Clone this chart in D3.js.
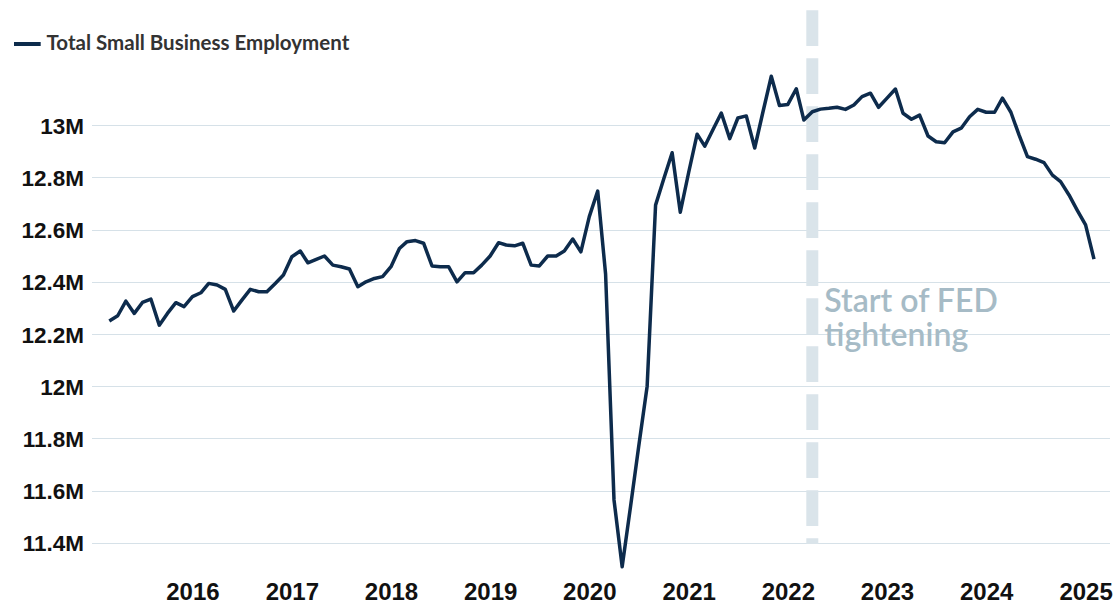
<!DOCTYPE html>
<html lang="en">
<head>
  <meta charset="UTF-8">
  <title>Total Small Business Employment</title>
  <style>
    body { margin: 0; background: #fff; }
    svg { display: block; }
    .grid line { stroke: #d6e1e8; stroke-width: 1; }
    .axis text { font-family: "Liberation Sans", Arial, sans-serif; font-weight: bold; fill: #111; }
    .legend text { font-family: Lato, "Open Sans", sans-serif; font-weight: 700; fill: #333; }
    .note { font-family: Lato, "Open Sans", sans-serif; font-weight: 600; fill: #a6bbc6; }
  </style>
  <script src="https://d3js.org/d3.v7.min.js"></script>
</head>
<body>
  <div id="chart"></div>

  <script>
    // Data: monthly small business employment, in millions (Mar 2015 - Feb 2025)
    var firstMonth = "2015-03";
    var employment = [
      12.250, 12.270, 12.326, 12.279, 12.321, 12.334, 12.234, 12.279, 12.320, 12.305,
      12.343, 12.358, 12.394, 12.388, 12.371, 12.288, 12.330, 12.371, 12.362, 12.362, 12.394, 12.426,
      12.496, 12.518, 12.473, 12.486, 12.499, 12.464, 12.458, 12.449, 12.381, 12.400, 12.413, 12.420,
      12.458, 12.528, 12.554, 12.558, 12.548, 12.461, 12.458, 12.458, 12.400, 12.435, 12.435, 12.464,
      12.499, 12.550, 12.541, 12.538, 12.548, 12.464, 12.461, 12.499, 12.499, 12.518, 12.564, 12.515,
      12.650, 12.748, 12.430, 11.564, 11.308, 11.540, 11.770, 12.000, 12.694, 12.794, 12.895, 12.667,
      12.820, 12.966, 12.920, 12.985, 13.047, 12.949, 13.028, 13.036, 12.913, 13.050, 13.188, 13.076,
      13.080, 13.140, 13.020, 13.052, 13.062, 13.065, 13.069, 13.061, 13.078, 13.110, 13.123, 13.069,
      13.104, 13.139, 13.046, 13.023, 13.039, 12.959, 12.937, 12.933, 12.975, 12.989, 13.033, 13.061,
      13.050, 13.050, 13.104, 13.050, 12.963, 12.880, 12.870, 12.857, 12.809, 12.784, 12.733, 12.675,
      12.618, 12.487
    ];
    var yTicks = [11.4, 11.6, 11.8, 12, 12.2, 12.4, 12.6, 12.8, 13];
    var xTickYears = [2016, 2017, 2018, 2019, 2020, 2021, 2022, 2023, 2024, 2025];
    var seriesName = "Total Small Business Employment";
    var noteLines = ["Start of FED", "tightening"];
    var noteMonth = "2022-04";

    var width = 1117, height = 604;
    var parseMonth = d3.timeParse("%Y-%m");
    var start = parseMonth(firstMonth);

    var data = employment.map(function(v, i) {
      return { date: d3.timeMonth.offset(start, i), value: v };
    });

    // Escalas
    var x = d3.scaleTime()
      .domain([data[0].date, data[data.length - 1].date])
      .range([109.3, 1094]);

    var y = d3.scaleLinear()
      .domain([11.4, 13])
      .range([542.7, 125.3]);

    var svg = d3.select("#chart").append("svg")
      .attr("width", width)
      .attr("height", height);

    // Grid lines
    svg.append("g")
      .attr("class", "grid")
      .selectAll("line")
      .data(yTicks)
      .enter().append("line")
      .attr("x1", 92)
      .attr("x2", 1110)
      .attr("y1", function(d) { return Math.round(y(d)) + 0.5; })
      .attr("y2", function(d) { return Math.round(y(d)) + 0.5; });

    // Y axis labels
    var yAxis = d3.axisLeft(y)
      .tickValues(yTicks)
      .tickSize(0)
      .tickPadding(0)
      .tickFormat(function(d) { return d3.format(".3~")(d) + "M"; });

    svg.append("g")
      .attr("class", "axis y")
      .attr("transform", "translate(84,0)")
      .call(yAxis)
      .call(function(g) { g.select(".domain").remove(); })
      .selectAll("text")
      .attr("font-size", 22.5)
      .attr("dy", "0.36em");

    // X axis labels
    var xAxis = d3.axisBottom(x)
      .tickValues(xTickYears.map(function(yr) { return new Date(yr, 0, 1); }))
      .tickSize(0)
      .tickPadding(0)
      .tickFormat(d3.timeFormat("%Y"));

    svg.append("g")
      .attr("class", "axis x")
      .attr("transform", "translate(0,600)")
      .call(xAxis)
      .call(function(g) { g.select(".domain").remove(); })
      .selectAll("text")
      .attr("font-size", 24)
      .attr("dy", 0);

    // Fed tightening marker
    var xNote = x(parseMonth(noteMonth));
    svg.append("line")
      .attr("x1", xNote)
      .attr("x2", xNote)
      .attr("y1", 10.3)
      .attr("y2", 544)
      .attr("stroke", "#dae4ea")
      .attr("stroke-width", 12)
      .attr("stroke-dasharray", "35.7,12.3");

    svg.append("text")
      .attr("class", "note")
      .attr("font-size", 32)
      .selectAll("tspan")
      .data(noteLines)
      .enter().append("tspan")
      .attr("x", xNote + 12)
      .attr("y", function(d, i) { return 311.7 + i * 34.5; })
      .text(function(d) { return d; });

    // Series line
    var line = d3.line()
      .x(function(d) { return x(d.date); })
      .y(function(d) { return y(d.value); });

    svg.append("path")
      .datum(data)
      .attr("fill", "none")
      .attr("stroke", "#0d2b4c")
      .attr("stroke-width", 3.5)
      .attr("stroke-linejoin", "round")
      .attr("d", line);

    // Legend
    var legend = svg.append("g").attr("class", "legend");
    legend.append("line")
      .attr("x1", 14).attr("x2", 40.7)
      .attr("y1", 44).attr("y2", 44)
      .attr("stroke", "#0d2b4c")
      .attr("stroke-width", 4);
    legend.append("text")
      .attr("x", 46.5)
      .attr("y", 49.5)
      .attr("font-size", 20.5)
      .text(seriesName);
  </script>
</body>
</html>
